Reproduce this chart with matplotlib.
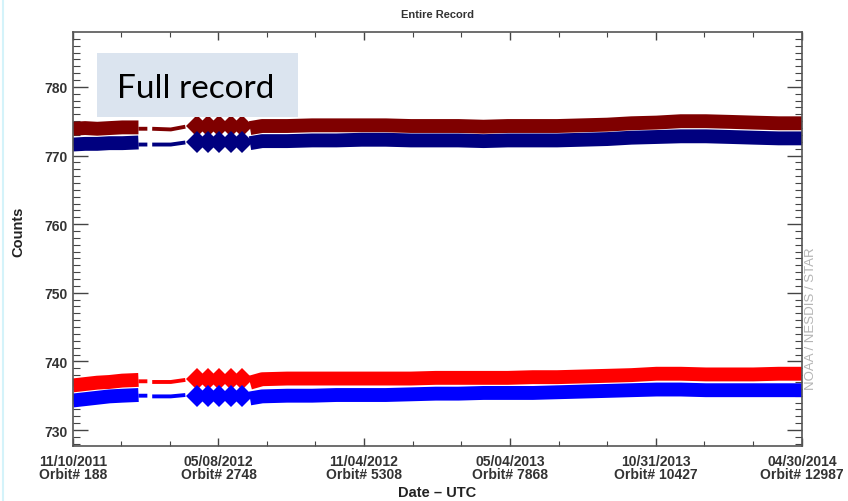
import numpy as np
import pandas as pd
import matplotlib
matplotlib.use('Agg')
import matplotlib.pyplot as plt
from matplotlib.patches import Rectangle
from matplotlib.lines import Line2D

# axis ticks
tick_dates = ['2011-11-10', '2012-05-08', '2012-11-04', '2013-05-04', '2013-10-31', '2014-04-30']
orbits = [188, 2748, 5308, 7868, 10427, 12987]

# first weeks of record (dense)
dates_a = ['2011-11-10', '2011-11-25', '2011-12-10', '2011-12-25', '2012-01-10', '2012-01-30']
dred_a = [773.9, 774.0, 773.9, 774.0, 774.1, 774.1]
dblue_a = [771.6, 771.7, 771.7, 771.8, 771.8, 771.9]
red_a = [736.5, 736.7, 736.9, 737.0, 737.2, 737.3]
blue_a = [734.3, 734.5, 734.7, 734.9, 735.0, 735.1]

# sparse period (thin trace)
dates_b = ['2012-01-30', '2012-02-10', '2012-02-13', '2012-02-16', '2012-03-10', '2012-03-28']
dred_b = [773.9, 773.9, np.nan, 773.9, 773.8, 774.2]
dblue_b = [771.6, 771.6, np.nan, 771.6, 771.6, 771.9]
red_b = [737.1, 737.1, np.nan, 737.0, 737.0, 737.3]
blue_b = [735.0, 735.0, np.nan, 734.9, 734.9, 735.1]

# isolated daily groups
dates_c = ['2012-04-11', '2012-04-25', '2012-05-09', '2012-05-23', '2012-06-06']
dred_c = [774.3, 774.3, 774.3, 774.3, 774.3]
dblue_c = [771.9, 771.9, 771.9, 771.9, 771.9]
red_c = [737.4, 737.4, 737.4, 737.4, 737.4]
blue_c = [734.9, 734.9, 734.9, 734.9, 734.9]

# rest of record
dates_d = ['2012-06-16', '2012-07-01', '2012-08-01', '2012-09-01', '2012-10-01', '2012-11-01',
           '2012-12-01', '2013-01-01', '2013-02-01', '2013-03-01', '2013-04-01', '2013-05-01',
           '2013-06-01', '2013-07-01', '2013-08-01', '2013-09-01', '2013-10-01', '2013-11-01',
           '2013-12-01', '2014-01-01', '2014-02-01', '2014-03-01', '2014-04-01', '2014-04-30']
dred_d = [774.0, 774.3, 774.3, 774.4, 774.4, 774.4, 774.4, 774.3, 774.3, 774.3, 774.2, 774.3,
          774.3, 774.3, 774.4, 774.5, 774.7, 774.8, 775.0, 775.0, 774.9, 774.8, 774.7, 774.7]
dblue_d = [771.8, 772.1, 772.1, 772.2, 772.2, 772.3, 772.3, 772.2, 772.2, 772.2, 772.1, 772.2,
           772.2, 772.2, 772.3, 772.4, 772.6, 772.7, 772.8, 772.8, 772.7, 772.6, 772.5, 772.5]
red_d = [736.9, 737.4, 737.5, 737.5, 737.5, 737.5, 737.5, 737.5, 737.6, 737.6, 737.6, 737.6,
         737.7, 737.7, 737.8, 737.9, 738.0, 738.2, 738.2, 738.1, 738.1, 738.1, 738.2, 738.2]
blue_d = [734.6, 734.9, 735.0, 735.0, 735.1, 735.1, 735.1, 735.2, 735.3, 735.3, 735.4, 735.4,
          735.4, 735.5, 735.6, 735.7, 735.8, 735.9, 735.9, 735.8, 735.8, 735.8, 735.8, 735.8]

series = [
    ('#7f0000', dred_a, dred_b, dred_c, dred_d),
    ('#00007f', dblue_a, dblue_b, dblue_c, dblue_d),
    ('#ff0000', red_a, red_b, red_c, red_d),
    ('#0000ff', blue_a, blue_b, blue_c, blue_d),
]

da = pd.to_datetime(dates_a)
db = pd.to_datetime(dates_b)
dc = pd.to_datetime(dates_c)
dd = pd.to_datetime(dates_d)
ticks = pd.to_datetime(tick_dates)

plt.rcParams['font.family'] = ['Liberation Sans', 'DejaVu Sans']
fig = plt.figure(figsize=(8.48, 5.02), dpi=100)
ax = fig.add_axes([73 / 848, 1 - 447 / 502, 729 / 848, 414 / 502])

for c, a, b, cc, d in series:
    ax.plot(da, a, color=c, lw=10, solid_capstyle='butt')
    ax.plot(db, b, color=c, lw=2.8, solid_capstyle='butt')
    ax.plot(dc, cc, 'D', color=c, ms=11.5, mew=0)
    ax.plot(dd, d, color=c, lw=10, solid_capstyle='butt')

ax.set_ylim(727.67, 788.0)
ax.set_xlim(ticks[0], ticks[-1])
ax.set_yticks([730, 740, 750, 760, 770, 780])
ax.set_yticks(np.arange(728, 788, 1), minor=True)
ax.set_xticks(ticks)
minor = []
for i in range(len(ticks) - 1):
    step = (ticks[i + 1] - ticks[i]) / 3
    minor += [ticks[i] + step, ticks[i] + 2 * step]
ax.set_xticks(minor, minor=True)
ax.set_xticklabels([f'{t:%m/%d/%Y}\nOrbit# {o}' for t, o in zip(ticks, orbits)],
                   fontweight='bold', fontsize=10, color='#333333', linespacing=0.9)
ax.set_yticklabels(['730', '740', '750', '760', '770', '780'],
                   fontweight='bold', fontsize=10, color='#333333')

ax.tick_params(axis='y', which='major', direction='in', length=11, width=1, right=True, pad=4, colors='#444444')
ax.tick_params(axis='y', which='minor', direction='in', length=5, width=0.8, right=True, colors='#444444')
ax.tick_params(axis='x', which='major', direction='in', length=6, width=1, top=True, pad=6, colors='#444444')
ax.tick_params(axis='x', which='minor', direction='in', length=3.5, width=0.8, top=True, colors='#444444')
for t in ax.get_xticklabels() + ax.get_yticklabels():
    t.set_color('#333333')
for s in ax.spines.values():
    s.set_color('#555555')
    s.set_linewidth(1.2)

ax.set_title('Entire Record', fontweight='bold', fontsize=8, color='#333333', pad=11)
ax.set_xlabel('Date \u2013 UTC', fontweight='bold', fontsize=10.5, color='#222222', labelpad=3)
ax.set_ylabel('Counts', fontweight='bold', fontsize=10.5, color='#222222')
ax.yaxis.set_label_coords(-0.066, 0.52)

fig.text(811 / 848, 1 - 319 / 502, 'NOAA / NESDIS / STAR', rotation=90, color='#b4b4b4',
         fontsize=9.5, ha='center', va='center')

fig.patches.append(Rectangle((97 / 848, 1 - 118 / 502), 201 / 848, 64 / 502,
                             transform=fig.transFigure, facecolor='#dbe4ef', edgecolor='none'))
fig.text(196 / 848, 1 - 98 / 502, 'Full record', family=['Lato', 'DejaVu Sans'],
         fontsize=24, color='black', ha='center', va='baseline')

fig.add_artist(Line2D([3 / 848, 3 / 848], [0, 1], transform=fig.transFigure, color='#d4f3fa', lw=1.5))

fig.savefig('out.png', dpi=100)
